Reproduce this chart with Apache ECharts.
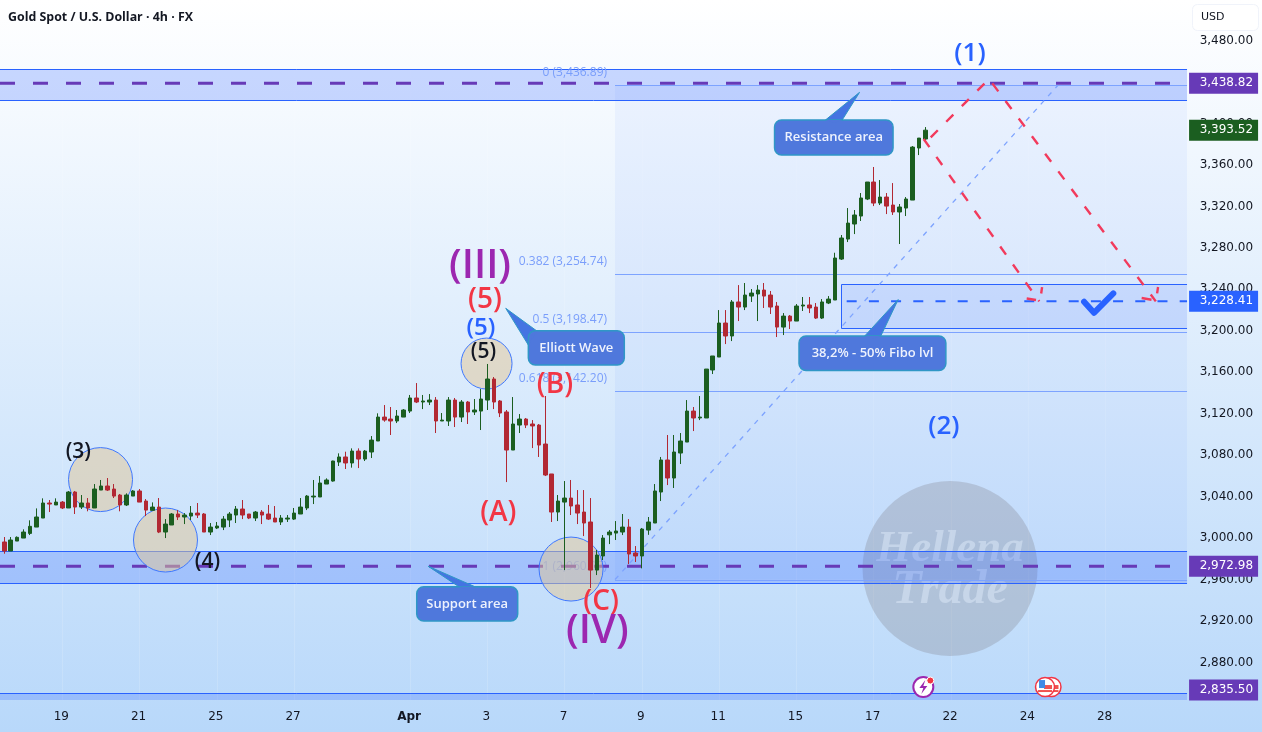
<!DOCTYPE html>
<html>
<head>
<meta charset="utf-8">
<style>html,body{margin:0;padding:0;background:#fff}#chart{width:1262px;height:732px}</style>
<script src="https://cdn.jsdelivr.net/npm/echarts@6/dist/echarts.min.js"></script>
</head>
<body>
<div id="chart"></div>
<script>
// XAU/USD four-hour candles
const opens = [2996.3,2987.6,2997.2,3000.1,3004.6,3010.7,3019.4,3033.9,3032.0,3034.8,
3029.1,3044.5,3030.0,3033.9,3029.1,3046.4,3050.3,3047.4,3041.6,3032.0,
3040.6,3045.5,3035.8,3026.8,3030.0,3005.9,3012.7,3023.3,3020.4,3021.3,
3024.2,3023.3,3005.9,3009.8,3010.7,3017.5,3022.3,3028.1,3023.3,3019.4,
3025.2,3023.3,3019.4,3015.6,3018.4,3018.4,3023.3,3029.1,3039.7,3039.7,
3052.2,3055.1,3073.4,3078.3,3072.5,3084.0,3076.3,3083.1,3093.7,3116.8,
3114.9,3113.0,3116.8,3122.6,3135.2,3131.3,3131.3,3133.2,3113.0,3113.0,
3133.2,3116.8,3131.3,3121.7,3122.6,3133.2,3153.5,3132.3,3121.7,3085.0,
3109.1,3114.9,3110.1,3109.1,3090.8,3061.9,3025.2,3034.8,3038.7,3032.0,
3025.2,3015.6,2969.2,2982.8,3003.2,3004.9,3005.9,3010.7,2985.7,2982.8,
3007.8,3014.6,3044.5,3075.4,3058.0,3082.1,3092.7,3122.6,3115.9,3115.9,
3162.2,3174.7,3207.5,3195.0,3227.8,3222.9,3233.5,3235.5,3239.3,3234.5,
3223.9,3203.6,3214.2,3209.4,3223.9,3224.9,3222.9,3212.3,3226.8,3229.7,
3269.2,3288.5,3303.0,3310.7,3327.1,3343.5,3323.2,3329.0,3321.3,3314.6,
3318.4,3326.1,3376.3,3385.0];
const highs = [3001.1,3001.1,3001.7,3008.5,3017.2,3028.7,3038.4,3036.8,3038.4,3035.8,
3045.5,3045.5,3041.6,3038.7,3052.2,3056.1,3058.0,3052.2,3042.6,3043.2,
3046.4,3047.4,3037.7,3034.5,3038.7,3018.4,3024.2,3027.1,3024.2,3031.0,
3033.9,3024.2,3014.6,3015.6,3021.3,3025.2,3031.0,3036.8,3023.3,3026.2,
3027.1,3032.0,3031.0,3022.3,3022.3,3029.1,3038.7,3041.6,3056.1,3059.9,
3057.7,3074.7,3081.8,3083.4,3086.6,3086.6,3085.0,3098.5,3120.4,3128.4,
3126.5,3123.6,3124.5,3138.1,3149.6,3138.1,3139.0,3136.1,3120.7,3136.1,
3135.2,3133.2,3132.3,3134.2,3143.8,3168.0,3155.4,3133.2,3123.6,3136.1,
3119.7,3115.9,3113.9,3110.1,3137.1,3061.9,3041.6,3055.1,3056.1,3046.4,
3046.4,3038.7,2988.6,3003.0,3007.8,3016.5,3023.3,3018.4,2992.4,3009.8,
3020.4,3052.2,3078.3,3099.5,3099.5,3101.4,3133.2,3126.5,3137.1,3163.1,
3175.7,3220.0,3220.0,3229.7,3244.1,3246.1,3240.3,3244.1,3246.1,3238.4,
3227.8,3217.1,3215.2,3225.8,3232.6,3232.6,3226.8,3230.6,3233.5,3275.3,
3292.4,3318.4,3316.5,3332.9,3343.5,3358.0,3345.4,3332.9,3342.5,3322.3,
3329.0,3378.2,3385.9,3396.5];
const lows = [2985.0,2987.6,2997.2,3000.1,3003.0,3010.7,3019.4,3025.2,3032.0,3028.1,
3029.1,3023.3,3028.1,3025.9,3029.1,3046.4,3045.5,3038.7,3025.9,3031.0,
3040.6,3034.8,3021.3,3026.8,3004.9,3000.1,3012.7,3017.5,3013.6,3017.5,
3019.4,3005.9,3003.0,3008.8,3007.8,3010.7,3014.6,3018.4,3018.4,3016.5,
3013.6,3017.5,3015.6,3012.7,3015.6,3017.5,3023.3,3027.1,3032.9,3039.7,
3052.2,3054.5,3069.6,3066.7,3068.0,3067.6,3074.4,3077.3,3093.7,3112.3,
3099.5,3111.0,3116.8,3120.7,3130.3,3124.5,3128.4,3101.4,3113.0,3108.2,
3107.2,3112.0,3110.1,3118.8,3104.3,3123.6,3124.5,3116.8,3054.1,3085.0,
3101.4,3106.2,3086.9,3078.3,3059.9,3015.6,3016.5,2969.2,3022.3,3013.6,
3002.0,2951.9,2964.4,2978.9,2994.3,2998.2,3003.0,2975.0,2977.0,2970.9,
3003.2,3014.6,3035.8,3051.2,3048.4,3071.5,3092.7,3103.3,3113.9,3115.9,
3158.3,3174.7,3187.2,3190.1,3209.4,3220.0,3227.8,3209.4,3222.0,3216.2,
3194.0,3195.9,3201.7,3209.4,3219.1,3217.1,3211.4,3211.4,3225.8,3229.7,
3268.3,3285.6,3293.3,3305.9,3326.1,3320.3,3321.3,3312.6,3311.7,3283.7,
3310.7,3326.1,3369.5,3382.1];
const closes = [2987.6,2998.2,3000.8,3005.9,3011.4,3020.4,3033.9,3032.9,3034.8,3029.1,
3044.5,3030.0,3033.9,3029.1,3047.4,3050.3,3046.4,3040.6,3032.0,3041.6,
3045.5,3034.8,3027.1,3030.0,3005.9,3013.6,3023.3,3020.4,3022.3,3024.2,
3022.3,3005.9,3010.7,3011.7,3018.4,3023.3,3028.1,3022.3,3019.4,3025.2,
3022.3,3018.4,3015.6,3019.4,3019.4,3024.2,3030.0,3040.6,3040.6,3053.2,
3056.1,3074.4,3078.3,3072.5,3084.0,3076.3,3084.0,3094.6,3116.8,3113.9,
3113.0,3117.8,3123.6,3135.2,3131.3,3132.3,3133.2,3113.0,3113.9,3133.2,
3116.8,3131.3,3121.7,3123.6,3134.2,3153.5,3131.3,3120.7,3085.0,3110.1,
3114.9,3109.1,3108.2,3089.8,3060.9,3025.2,3035.8,3038.7,3031.0,3024.2,
3014.6,2969.2,2983.7,3000.1,3005.9,3006.9,3010.7,2984.7,2982.8,3008.8,
3015.6,3045.5,3075.4,3058.0,3083.1,3093.7,3122.6,3115.9,3116.8,3163.1,
3175.7,3207.5,3195.0,3227.8,3222.9,3234.5,3236.4,3239.3,3233.5,3222.9,
3203.6,3214.2,3209.4,3223.9,3224.9,3222.0,3212.3,3227.8,3230.6,3270.2,
3289.5,3303.9,3311.7,3328.1,3343.5,3323.2,3329.0,3320.3,3314.6,3319.4,
3327.1,3377.2,3385.9,3393.52];

// Date axis: slots past the last candle leave room for the projection
const slotCount = 184;
const dateTickSlots = [9,21,33,45,63,75,87,99,111,123,135,147,159,171];
const dateTickLabels = ['19','21','25','27','Apr','3','7','9','11','15','17','22','24','28'];
const priceTicks = [2880,2920,2960,3000,3040,3080,3120,3160,3200,3240,3280,3320,3360,3400,3440,3480];
const priceMin = 2843.9, priceMax = 3519.07;
const leftEdge = -0.668, rightEdge = 183.65;

// Horizontal price levels and zones
const zones = [[3452.5,3422.6],[2987.6,2956.7],[2850.6,2835.5]];
const keyLevels = [3438.82,2972.98];
const fibLevels = [
  ['0 (3,436.89)',3436.89],['0.382 (3,254.74)',3254.74],['0.5 (3,198.47)',3198.47],
  ['0.618 (3,142.20)',3142.20],['1 (2,960.07)',2960.07]];
const fibStart = 94.83;
const fibTrend = [[94.83,2960.07],[163.6,3436.89]];
const targetBox = [129.9,3245.4,3202.7];
const targetLevel = 3228.41, targetLevelStart = 130.8;
const checkMark = [[167.66,3228.0],[169.2,3217.4],[172.2,3236.1]];

// Projected paths, each ending in an open arrowhead
const projections = [
  [[143.85,3386.6],[152.9,3442.9],[178.8,3228.41]],
  [[176.6,3231.6],[178.4,3229.7]],
  [[179.15,3242.2],[179.0,3236.1]],
  [[142.75,3385.0],[160.7,3228.41]],
  [[158.75,3231.1],[160.2,3229.7]],
  [[161.14,3242.2],[161.0,3236.0]]];

const waveCircles = [[14.94,3056.5,32],[25.03,2998.2,32],[74.88,3168.4,25.5],[88.0,2970.2,32]];
const waveLabels = [
  ['(1)',149.95,3467.0,'#2962ff',26],['(2)',145.9,3107.2,'#2962ff',26],
  ['(III)',73.87,3262.0,'#9c27b0',40],['(5)',74.64,3229.7,'#f23645',28],
  ['(5)',74.0,3202.7,'#2962ff',24],['(5)',74.4,3179.5,'#131722',21],
  ['(3)',11.5,3083.4,'#131722',21],['(4)',31.55,2977.3,'#131722',21],
  ['(A)',76.7,3024.2,'#f23645',28],['(B)',85.5,3147.7,'#f23645',28],
  ['(C)',92.66,2938.7,'#f23645',28],['(IV)',92.08,2909.7,'#9c27b0',40]];

// Callouts: text, box corners, pointer tip, pointer base
const callouts = [
  ['Resistance area',[119.6,3403.3],[138.0,3369.6],[132.8,3430.0],[[127.5,3403.3],[130.1,3403.3]]],
  ['Elliott Wave',[81.37,3200.1],[96.27,3167.0],[77.86,3221.7],[[82.7,3199.8],[81.37,3186.3]]],
  ['38,2% - 50% Fibo lvl',[123.4,3195.0],[146.2,3161.7],[138.8,3230.2],[[133.6,3195.0],[136.1,3195.0]]],
  ['Support area',[64.04,2953.1],[79.72,2920.0],[65.8,2972.98],[[70.6,2953.1],[73.1,2953.1]]]];

const priceTags = [[3438.82,'#673ab7'],[3393.52,'#1b5e20'],[3228.41,'#2962ff'],[2972.98,'#673ab7'],[2835.50,'#673ab7']];
const watermark = [146.85,2970.7,87.5];
const watermarkLines = [['Hellena',45,-19],['Trade',48,22]];
const eventMarks = [142.7,2856.4];
const flagMarks = [[162.6,2856.4],[161.6,2856.4]];

const categories = Array.from({length: slotCount}, () => '');
dateTickSlots.forEach((s, i) => { categories[s] = dateTickLabels[i]; });

const BLUE = '#2962ff', FIB = '#7da3ff', RED = '#f23a5c';
const UI = '"DejaVu Sans", sans-serif', LABEL = '"Open Sans", sans-serif';
const crisp = v => Math.round(v) + 0.5;

// Wraps a drawing routine as a custom series on the numeric overlay x axis
function overlay(name, z, rows, draw, clip) {
  return {
    name, type: 'custom', coordinateSystem: 'cartesian2d', xAxisIndex: 1, yAxisIndex: 0,
    z, silent: true, clip: !!clip, animation: false,
    data: rows.map((_, i) => [i, priceMin]),
    encode: {x: 0, y: 1},
    renderItem: (params, api) => {
      const c = p => api.coord(p);
      return draw(rows[params.dataIndex], c, params.coordSys);
    }
  };
}
const hline = (x1, x2, y, stroke, lineWidth, lineDash) => ({
  type: 'line', shape: {x1, y1: y, x2, y2: y}, style: {stroke, lineWidth, lineDash}});

const fibBands = fibLevels.slice(0, -1).map((l, i) => [l[1], fibLevels[i + 1][1]]);

const series = [
  overlay('Fib fill', 3, fibBands, (b, c) => {
    const a = c([fibStart, b[0]]), e = c([rightEdge, b[1]]);
    return {type: 'rect', shape: {x: a[0], y: a[1], width: e[0] - a[0], height: e[1] - a[1]},
      style: {fill: 'rgba(41,98,255,0.05)'}};
  }),
  overlay('Watermark', 4, [watermark], (w, c) => {
    const p = c([w[0], w[1]]);
    return {type: 'group', children: [
      {type: 'circle', shape: {cx: p[0], cy: p[1], r: w[2]}, style: {fill: 'rgba(128,128,140,0.3)'}}
    ].concat(watermarkLines.map(l => ({
      type: 'text', style: {text: l[0], x: p[0], y: p[1] + l[2], align: 'center', verticalAlign: 'middle',
        fill: 'rgba(222,234,250,0.5)', font: 'italic bold ' + l[1] + 'px "Liberation Serif", serif'}
    })))};
  }),
  overlay('Zones', 5, zones, (z, c, cs) => {
    const a = c([leftEdge, z[0]]), e = c([rightEdge, z[1]]);
    const bottom = Math.min(e[1], cs.y + cs.height);
    const atEdge = e[1] > cs.y + cs.height;
    const kids = [
      {type: 'rect', shape: {x: a[0], y: a[1], width: e[0] - a[0], height: bottom - a[1]}, style: {fill: 'rgba(41,98,255,0.24)'}},
      hline(a[0], e[0], crisp(a[1]), BLUE, 1)];
    if (!atEdge) kids.push(hline(a[0], e[0], crisp(bottom), BLUE, 1));
    return {type: 'group', children: kids};
  }),
  overlay('Target box', 5, [targetBox], (b, c) => {
    const a = c([b[0], b[1]]), e = c([rightEdge, b[2]]);
    const x = crisp(a[0]), t = crisp(a[1]), d = crisp(e[1]);
    return {type: 'group', children: [
      {type: 'rect', shape: {x, y: t, width: e[0] - x, height: d - t}, style: {fill: 'rgba(41,98,255,0.11)'}},
      {type: 'polyline', shape: {points: [[e[0], t], [x, t], [x, d], [e[0], d]]}, style: {stroke: BLUE, lineWidth: 1, fill: null}}
    ]};
  }),
  overlay('Fib levels', 6, fibLevels, (l, c) => {
    const a = c([fibStart, l[1]]), e = c([rightEdge, l[1]]);
    return {type: 'group', children: [
      hline(a[0], e[0], crisp(a[1]), FIB, 1),
      {type: 'text', style: {text: l[0], x: a[0] - 8, y: a[1] - 12.5, align: 'right', verticalAlign: 'middle',
        fill: '#7a9efb', font: '12px ' + LABEL}}
    ]};
  }),
  overlay('Fib trend', 6, [fibTrend], (t, c) => ({
    type: 'polyline', shape: {points: t.map(c)}, style: {stroke: '#7da3ff', lineWidth: 1.3, lineDash: [5, 6], fill: null}
  })),
  overlay('Key levels', 7, keyLevels, (v, c) => {
    const a = c([leftEdge, v]), e = c([rightEdge, v]);
    return hline(a[0], e[0], a[1], '#673ab7', 3, [15, 18]);
  }),
  overlay('Target level', 7, [targetLevel], (v, c) => {
    const a = c([targetLevelStart, v]), e = c([rightEdge, v]);
    return hline(a[0], e[0], a[1], BLUE, 2, [10, 12.2]);
  }),
  overlay('Wave circles', 8, waveCircles, (w, c) => {
    const p = c([w[0], w[1]]);
    return {type: 'circle', shape: {cx: p[0], cy: p[1], r: w[2]},
      style: {fill: 'rgba(225,198,150,0.5)', stroke: '#3f78ff', lineWidth: 1}};
  }),
  {
    name: 'XAUUSD', type: 'candlestick', xAxisIndex: 0, yAxisIndex: 0, z: 9, silent: true, barWidth: 4,
    data: opens.map((o, i) => [o, closes[i], lows[i], highs[i]]),
    itemStyle: {color: '#1b5e20', color0: '#b22833', borderColor: '#1b5e20', borderColor0: '#b22833', borderWidth: 1}
  },
  overlay('Projections', 10, projections, (p, c) => ({
    type: 'polyline', shape: {points: p.map(c)}, style: {stroke: RED, lineWidth: 2.4, lineDash: [10, 12], fill: null}
  })),
  overlay('Check mark', 10, [checkMark], (p, c) => ({
    type: 'polyline', shape: {points: p.map(c)}, style: {stroke: BLUE, lineWidth: 6, lineCap: 'round', lineJoin: 'round', fill: null}
  })),
  overlay('Callouts', 11, callouts, (k, c) => {
    const a = c(k[1]), e = c(k[2]), tip = c(k[3]), base = k[4].map(c);
    const fill = '#4f78dc', edge = '#2f97c6';
    return {type: 'group', children: [
      {type: 'polygon', shape: {points: [tip, base[0], base[1]]}, style: {fill: '#4474e2', stroke: edge, lineWidth: 1}},
      {type: 'rect', shape: {x: a[0], y: a[1], width: e[0] - a[0], height: e[1] - a[1], r: 7},
        style: {fill, stroke: edge, lineWidth: 1.5}},
      {type: 'polygon', shape: {points: [base[0], base[1], [(base[0][0] + base[1][0]) / 2, base[0][1] + 3]]}, style: {fill}},
      {type: 'text', style: {text: k[0], x: (a[0] + e[0]) / 2, y: (a[1] + e[1]) / 2, align: 'center', verticalAlign: 'middle',
        fill: '#eef2fd', font: '600 13px ' + LABEL}}
    ]};
  }),
  overlay('Wave labels', 12, waveLabels, (w, c) => {
    const p = c([w[1], w[2]]);
    return {type: 'text', style: {text: w[0], x: p[0], y: p[1], align: 'center', verticalAlign: 'middle',
      fill: w[3], font: '600 ' + w[4] + 'px ' + LABEL}};
  }),
  overlay('Event', 12, [eventMarks], (m, c) => {
    const p = c(m), x = p[0], y = p[1];
    return {type: 'group', children: [
      {type: 'circle', shape: {cx: x, cy: y, r: 10}, style: {fill: '#fff', stroke: '#9c27b0', lineWidth: 2}},
      {type: 'polygon', shape: {points: [[x + 2, y - 7], [x - 4, y + 1], [x, y + 1], [x - 2, y + 7], [x + 4, y - 1], [x, y - 1]]}, style: {fill: '#9c27b0'}},
      {type: 'circle', shape: {cx: x + 7, cy: y - 6.5, r: 3.5}, style: {fill: '#f23645', stroke: '#fff', lineWidth: 1}}
    ]};
  }),
  overlay('Flags', 12, flagMarks, (m, c) => {
    const p = c(m), x = p[0], y = p[1];
    return {type: 'group', children: [
      {type: 'circle', shape: {cx: x, cy: y, r: 9.5}, style: {fill: '#fff', stroke: '#f23645', lineWidth: 1.5}},
      {type: 'rect', shape: {x: x - 1, y: y - 2, width: 8, height: 4}, style: {fill: '#ef5350'}},
      {type: 'rect', shape: {x: x - 7, y: y + 3, width: 14, height: 2}, style: {fill: '#ef5350'}},
      {type: 'rect', shape: {x: x - 6, y: y - 7, width: 6, height: 8}, style: {fill: '#3f8ae6'}}
    ]};
  }),
  overlay('Price tags', 20, priceTags, (t, c, cs) => {
    const y = Math.min(c([0, t[0]])[1], cs.y + cs.height - 10);
    const x = cs.x + cs.width + 3;
    return {type: 'group', children: [
      {type: 'rect', shape: {x, y: y - 10.5, width: 69, height: 21}, style: {fill: t[1]}},
      {type: 'text', style: {text: t[0].toLocaleString('en-US', {minimumFractionDigits: 2}), x: x + 64, y,
        align: 'right', verticalAlign: 'middle', fill: '#fff', font: '12px ' + UI}}
    ]};
  })
];

const chart = echarts.init(document.getElementById('chart'), null, {renderer: 'canvas'});
chart.setOption({
  animation: false,
  backgroundColor: new echarts.graphic.LinearGradient(0, 0, 0, 1, [
    {offset: 0, color: '#ffffff'}, {offset: 1, color: '#b8d8fa'}]),
  title: {
    text: 'Gold Spot / U.S. Dollar · 4h · FX', left: 3, top: 6,
    textStyle: {fontFamily: LABEL, fontSize: 12.4, fontWeight: 700, color: '#131722'}
  },
  grid: {left: 1.08, top: 0, width: 1185, height: 700, containLabel: false},
  xAxis: [
    {
      type: 'category', data: categories, boundaryGap: true,
      axisLine: {show: false},
      axisTick: {show: false},
      splitLine: {show: true, alignWithLabel: true, interval: (i, v) => v !== '', lineStyle: {color: 'rgba(255,255,255,0.14)'}},
      axisLabel: {
        interval: (i, v) => v !== '', margin: 11, padding: [0, 2, 0, 0],
        color: '#131722', fontFamily: UI, fontSize: 12,
        formatter: v => v === 'Apr' ? '{month|Apr}' : v,
        rich: {month: {fontFamily: UI, fontSize: 12, fontWeight: 'bold', color: '#131722'}}
      }
    },
    {type: 'value', show: false, min: -0.5, max: slotCount - 0.5}
  ],
  yAxis: {
    type: 'value', position: 'right', min: priceMin, max: priceMax, scale: true,
    axisLine: {show: false}, axisTick: {show: false}, splitLine: {show: false},
    axisLabel: {
      customValues: priceTicks, align: 'right', margin: 67, padding: [0, 0, 3, 0],
      color: '#131722', fontFamily: UI, fontSize: 12,
      formatter: v => v.toLocaleString('en-US', {minimumFractionDigits: 2})
    }
  },
  graphic: [
    {type: 'rect', left: 1192, top: 4, shape: {width: 66, height: 26, r: 5}, style: {fill: '#ffffff', stroke: '#f0f3fa', lineWidth: 1}, z: 30},
    {type: 'text', left: 1201, top: 12, style: {text: 'USD', fill: '#131722', font: '11px ' + UI}, z: 31}
  ],
  series
});
</script>
</body>
</html>
